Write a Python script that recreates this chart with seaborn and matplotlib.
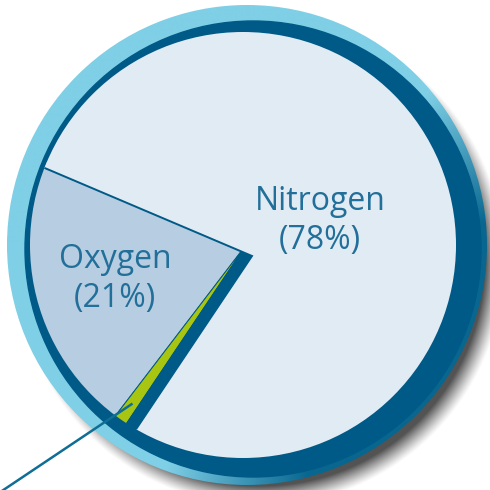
import numpy as np
import matplotlib
matplotlib.use('Agg')
import matplotlib.pyplot as plt
import seaborn as sns
from matplotlib.patches import Circle

# gases in the air (percent)
gases = ['Oxygen', 'Other', 'Nitrogen']
shares = [21, 1, 78]
labels = ['Oxygen\n(21%)', '', 'Nitrogen\n(78%)']

face_colors = ['#b7cde1', '#a8c512', '#e1ebf4']
dark_blue = '#005a87'
rim_light = '#7fcfe6'
rim_dark = '#08668f'
text_color = '#226f99'

sns.set_theme(style='white')
plt.rcParams['font.family'] = ['Open Sans', 'DejaVu Sans']

fig = plt.figure(figsize=(4.9, 4.9), dpi=100)
ax = fig.add_axes([0, 0, 1, 1])

# pixel grid for shadow and rim gradient
xx, yy = np.meshgrid(np.arange(490) + 0.5, np.arange(490) + 0.5)

# soft drop shadow
sx, sy, sr = 260, 228, 236
d = np.hypot(xx - sx, yy - sy)
a = np.clip((sr + 8 - d) / 20, 0, 1) ** 1.2 * 0.9
shadow = np.zeros((490, 490, 4))
shadow[..., :3] = 0.25
shadow[..., 3] = a
ax.imshow(shadow, extent=(0, 490, 0, 490), origin='lower', zorder=1)

# outer rim with gradient towards lower right
rx, ry, rr = 247, 245, 240
phi = np.degrees(np.arctan2(yy - ry, xx - rx))
dist = np.abs((phi + 35 + 180) % 360 - 180)
w = np.clip((75 - dist) / 35, 0, 1)
c1 = np.array(matplotlib.colors.to_rgb(rim_light))
c2 = np.array(matplotlib.colors.to_rgb(rim_dark))
rim = c1 * (1 - w[..., None]) + c2 * w[..., None]
im = ax.imshow(rim, extent=(0, 490, 0, 490), origin='lower', zorder=2)
im.set_clip_path(Circle((rx, ry), rr, transform=ax.transData))

# dark base disk
ax.add_patch(Circle((253, 241), 228, color=dark_blue, zorder=3))

face = (243, 245)
face_r = 213

def clip_to_face(wedges, z):
    for wdg in wedges:
        wdg.set_zorder(z)
        wdg.set_clip_on(True)
        wdg.set_clip_path(Circle(face, face_r, transform=ax.transData))

# lower level: oxygen and other, nitrogen shows its dark side wall
base = ax.pie(shares, colors=[face_colors[0], face_colors[1], dark_blue],
              startangle=157, center=(246, 245), radius=260, frame=True,
              wedgeprops=dict(linewidth=0.7, edgecolor=dark_blue))[0]
clip_to_face(base, 4)

# raised nitrogen face
top = ax.pie(shares, colors=face_colors, startangle=157, center=(252, 234),
             radius=260, frame=True,
             wedgeprops=dict(linewidth=1.4, edgecolor=dark_blue))[0]
clip_to_face(top, 5)
top[0].set_visible(False)
top[1].set_visible(False)

ax.set_xlim(0, 490)
ax.set_ylim(0, 490)
ax.set_aspect('equal')
ax.axis('off')

# labels
ax.text(320, 269, labels[2], ha='center', va='center', fontsize=23,
        color=text_color, linespacing=1.25, zorder=6)
ax.text(115, 211, labels[0], ha='center', va='center', fontsize=23,
        color=text_color, linespacing=1.25, zorder=6)

# pointer line to the small slice
g = base[1]
th = np.radians((g.theta1 + g.theta2) / 2)
start = np.array(g.center) + 195 * np.array([np.cos(th), np.sin(th)])
dirv = np.array([np.cos(np.radians(213.8)), np.sin(np.radians(213.8))])
end = start + 220 * dirv
ax.plot([start[0], end[0]], [start[1], end[1]], color='#0f6e96', lw=1.8,
        zorder=7, solid_capstyle='butt')

fig.savefig('out.png', dpi=100)
